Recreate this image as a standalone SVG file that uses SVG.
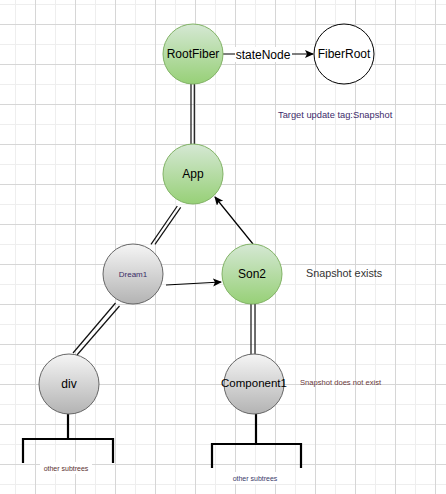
<svg xmlns="http://www.w3.org/2000/svg" width="446" height="494" viewBox="0 0 446 494">
<defs>
  <pattern id="grid" patternUnits="userSpaceOnUse" x="35" y="24" width="40" height="40">
    <path d="M20.5 0V40M0 20.5H40" stroke="#eeeeee" stroke-width="1" fill="none"/>
    <path d="M0.5 0V40M0 0.5H40" stroke="#d6d6d6" stroke-width="1" fill="none"/>
  </pattern>
  <linearGradient id="green" x1="0" y1="0" x2="0" y2="1">
    <stop offset="0" stop-color="#d5e8d4"/>
    <stop offset="1" stop-color="#97d077"/>
  </linearGradient>
  <linearGradient id="gray" x1="0" y1="0" x2="0" y2="1">
    <stop offset="0" stop-color="#f5f5f5"/>
    <stop offset="1" stop-color="#b3b3b3"/>
  </linearGradient>
  <marker id="arr" markerWidth="10" markerHeight="10" refX="8" refY="4" orient="auto" markerUnits="userSpaceOnUse">
    <path d="M0,0 L9,4 L0,8 L2,4 z" fill="#000"/>
  </marker>
  <style>
    .g { fill: url(#green); stroke: #82b366; stroke-width: 1; }
    .s { fill: url(#gray); stroke: #666666; stroke-width: 1; }
    .w { fill: #ffffff; stroke: #000000; stroke-width: 1; }
    text { font-family: "Liberation Sans", Arial, sans-serif; }
    .lbl { font-size: 12px; fill: #000; text-anchor: middle; dominant-baseline: central; }
    .dbl { stroke: #111; stroke-width: 1.2; fill: none; }
    .arrow { stroke: #000; stroke-width: 1.2; fill: none; marker-end: url(#arr); }
    .br { stroke: #000; stroke-width: 2.2; fill: none; }
  </style>
</defs>
<rect width="446" height="494" fill="#ffffff"/>
<rect width="446" height="494" fill="url(#grid)"/>

<g id="connectors">
  <line class="arrow" x1="223" y1="54" x2="313" y2="54"/>
  <rect x="235" y="47" width="57" height="15" fill="#ffffff"/>
  <text class="lbl" x="263" y="55">stateNode</text>
  <line class="dbl" x1="191" y1="84" x2="191" y2="144" stroke="#555"/>
  <line class="dbl" x1="194.3" y1="84" x2="194.3" y2="144" stroke="#555"/>
  <line class="dbl" x1="151" y1="244.3" x2="177.3" y2="206"/>
  <line class="dbl" x1="155" y1="244.3" x2="180.7" y2="207.3"/>
  <line class="arrow" x1="253" y1="244" x2="215" y2="197"/>
  <line class="arrow" x1="166" y1="285" x2="221" y2="282"/>
  <line class="dbl" x1="115.5" y1="303" x2="73" y2="353"/>
  <line class="dbl" x1="119.5" y1="306" x2="77" y2="355"/>
  <line class="dbl" x1="251" y1="304" x2="251" y2="354"/>
  <line class="dbl" x1="255" y1="304" x2="255" y2="354"/>
  <path class="br" d="M68 414V439M23 463V439H113V463"/>
  <path class="br" d="M256 414V444M212 468V444H301V468"/>
</g>

<g id="RootFiber"><circle class="g" cx="193" cy="54" r="30"/><text class="lbl" x="193" y="54">RootFiber</text></g>
<g id="FiberRoot"><circle class="w" cx="344" cy="54" r="30"/><text class="lbl" x="344" y="54">FiberRoot</text></g>
<g id="App"><circle class="g" cx="193" cy="174" r="30"/><text class="lbl" x="193" y="174">App</text></g>
<g id="Dream1"><circle class="s" cx="133" cy="274" r="30"/><text class="lbl" x="133" y="274" style="font-size:8px;fill:#3a2d66">Dream1</text></g>
<g id="Son2"><circle class="g" cx="252" cy="274" r="30"/><text class="lbl" x="252" y="274">Son2</text></g>
<g id="div"><circle class="s" cx="69" cy="384" r="30"/><text class="lbl" x="69" y="384">div</text></g>
<g id="Component1"><circle class="s" cx="254" cy="384" r="30"/><text class="lbl" x="254" y="383" style="font-size:11.5px">Component1</text></g>

<g id="notes">
  <text x="278" y="115" style="font-size:9.3px;fill:#3d2b6b" dominant-baseline="central">Target update tag:Snapshot</text>
  <text x="306" y="273" style="font-size:10.8px;fill:#333333" dominant-baseline="central">Snapshot exists</text>
  <text x="300" y="382" style="font-size:7.6px;fill:#6b3a3a" dominant-baseline="central">Snapshot does not exist</text>
  <rect x="40" y="462" width="52" height="12" fill="#ffffff"/>
  <text x="66" y="468" style="font-size:7px;fill:#5a3030" text-anchor="middle" dominant-baseline="central">other subtrees</text>
  <rect x="229" y="472" width="52" height="12" fill="#ffffff"/>
  <text x="255" y="478" style="font-size:7px;fill:#3a3a6a" text-anchor="middle" dominant-baseline="central">other subtrees</text>
</g>
</svg>
